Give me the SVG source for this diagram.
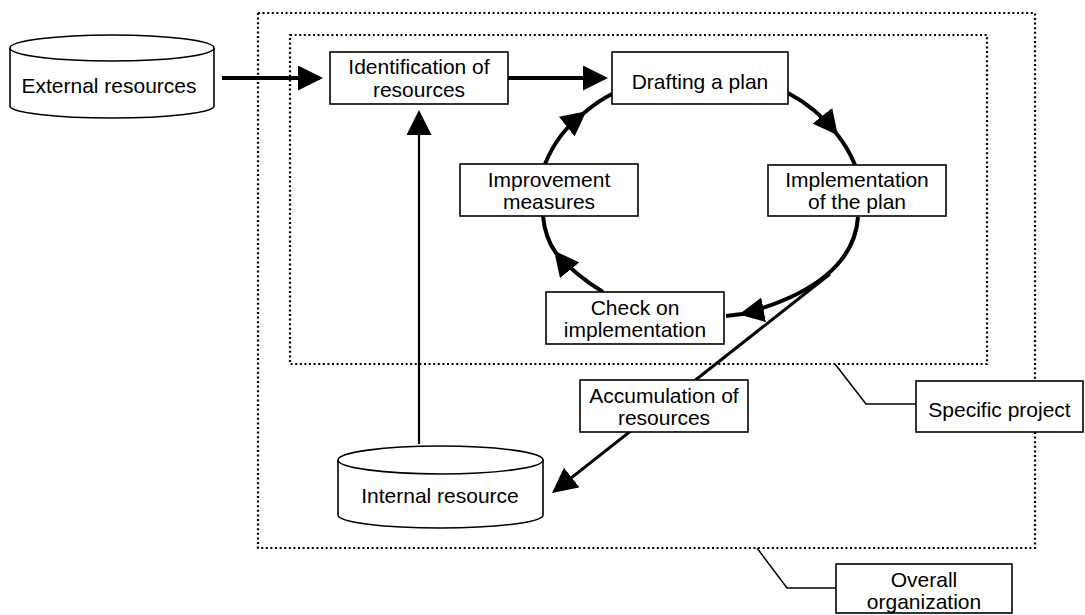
<svg xmlns="http://www.w3.org/2000/svg" width="1085" height="615" viewBox="0 0 1085 615">
<style>
text{font-family:"Liberation Sans",Arial,sans-serif;font-size:21px;fill:#000;text-anchor:middle}
.box{fill:#fff;stroke:#000;stroke-width:1.6}
.cyl{fill:#fff;stroke:#000;stroke-width:1.6}
.dot{fill:none;stroke:#000;stroke-width:2.2;stroke-dasharray:2 2.6}
.thick{fill:none;stroke:#000;stroke-width:4}
.lead{fill:none;stroke:#000;stroke-width:1.5}
</style>
<defs>
<marker id="ah" viewBox="0 0 25 25" markerWidth="25" markerHeight="25" refX="22" refY="12.5" orient="auto" markerUnits="userSpaceOnUse">
<path d="M0,0 L25,12.5 L0,25 Z" fill="#000"/>
</marker>
</defs>
<g id="regions">
<rect class="dot" x="258" y="13" width="777" height="535"/>
<rect class="dot" x="290" y="35" width="697" height="329"/>
</g>
<g id="connectors">
<path class="thick" d="M222,78 L320,78" marker-end="url(#ah)"/>
<path class="thick" d="M506,78 L605,78" marker-end="url(#ah)"/>
<path d="M419,444 L419,113" fill="none" stroke="#000" stroke-width="2.2" marker-end="url(#ah)"/>
<path class="thick" d="M788,93 A158,130 0 0 1 836,133 A158,130 0 0 1 855,165" marker-mid="url(#ah)"/>
<path class="thick" d="M858,217 C855,262 815,295 742,314 L726,316" marker-mid="url(#ah)"/>
<path class="thick" d="M603,292 Q575,275 556,253 Q545,238 543,216" marker-mid="url(#ah)"/>
<path class="thick" d="M545,164 Q558,132 584,113 Q598,101 612,94" marker-mid="url(#ah)"/>
<path d="M830,274 L554.4,491.1" fill="none" stroke="#000" stroke-width="3" marker-end="url(#ah)"/>
<path class="lead" d="M916,404 L866,404 L835,364"/>
<path class="lead" d="M836,588 L787,588 L757,548"/>
</g>
<g id="external">
<path class="cyl" d="M10,48 A102,13 0 0 1 214,48 L214,106 A102,12 0 0 1 10,106 Z"/>
<path class="cyl" d="M10,48 A102,13 0 0 0 214,48" fill="none"/>
<text x="109" y="93">External resources</text>
</g>
<g id="internal">
<path class="cyl" d="M338,460 A102.5,14 0 0 1 543,460 L543,515 A102.5,13 0 0 1 338,515 Z"/>
<path class="cyl" d="M338,460 A102.5,14 0 0 0 543,460" fill="none"/>
<text x="440" y="503">Internal resource</text>
</g>
<g id="identification">
<rect class="box" x="330" y="52" width="178" height="52"/>
<text x="419" y="74">Identification of</text>
<text x="419" y="97">resources</text>
</g>
<g id="drafting">
<rect class="box" x="612" y="52" width="176" height="52"/>
<text x="700" y="89">Drafting a plan</text>
</g>
<g id="implementation">
<rect class="box" x="768" y="165" width="178" height="51"/>
<text x="857" y="187">Implementation</text>
<text x="857" y="209">of the plan</text>
</g>
<g id="improvement">
<rect class="box" x="460" y="164" width="178" height="52"/>
<text x="549" y="187">Improvement</text>
<text x="549" y="209">measures</text>
</g>
<g id="check">
<rect class="box" x="546" y="292" width="178" height="52"/>
<text x="635" y="315">Check on</text>
<text x="635" y="337">implementation</text>
</g>
<g id="accumulation">
<rect class="box" x="580" y="380" width="168" height="52"/>
<text x="664" y="403">Accumulation of</text>
<text x="664" y="425">resources</text>
</g>
<g id="specific">
<rect class="box" x="916" y="381" width="167" height="51"/>
<text x="999.5" y="417">Specific project</text>
</g>
<g id="overall">
<rect class="box" x="836" y="564" width="176" height="49"/>
<text x="924" y="587">Overall</text>
<text x="924" y="609">organization</text>
</g>
</svg>
